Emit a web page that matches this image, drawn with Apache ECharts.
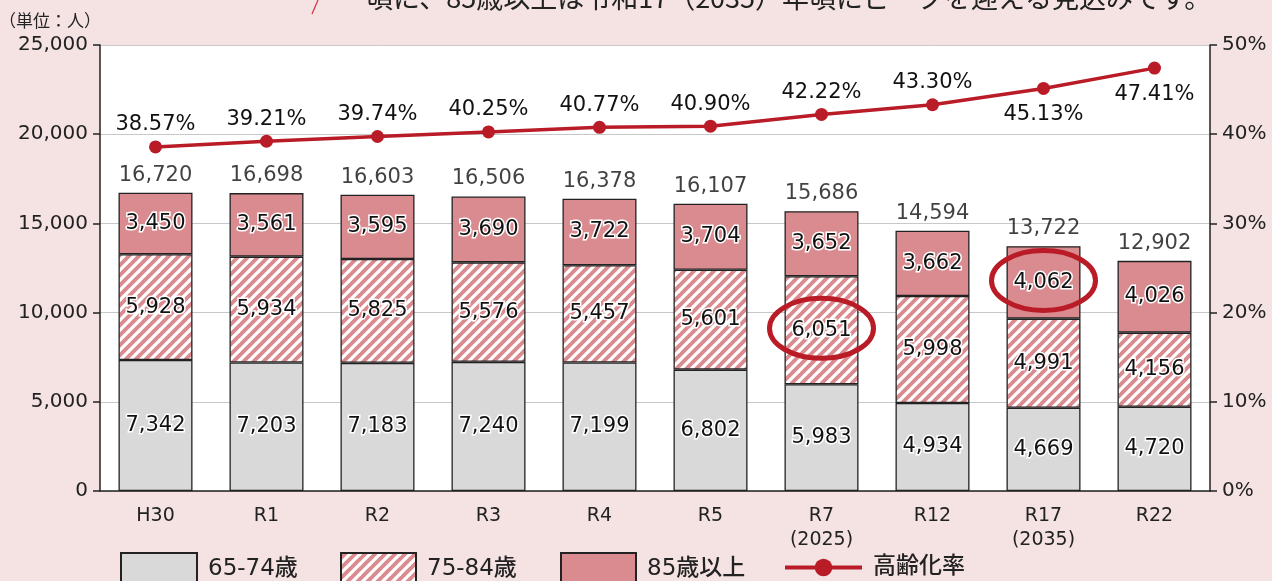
<!DOCTYPE html>
<html>
<head>
<meta charset="utf-8">
<script src="https://cdn.jsdelivr.net/npm/echarts@6/dist/echarts.min.js"></script>
<style>
  html, body { margin: 0; padding: 0; background: #f5e3e4; }
  #chart { width: 1272px; height: 581px; }
</style>
</head>
<body>
<div id="chart"></div>
<script>
const categories = ['H30', 'R1', 'R2', 'R3', 'R4', 'R5', 'R7\n(2025)', 'R12', 'R17\n(2035)', 'R22'];
const age65to74 = [7342, 7203, 7183, 7240, 7199, 6802, 5983, 4934, 4669, 4720];
const age75to84 = [5928, 5934, 5825, 5576, 5457, 5601, 6051, 5998, 4991, 4156];
const age85plus = [3450, 3561, 3595, 3690, 3722, 3704, 3652, 3662, 4062, 4026];
const totals = [16720, 16698, 16603, 16506, 16378, 16107, 15686, 14594, 13722, 12902];
const agingRate = [38.57, 39.21, 39.74, 40.25, 40.77, 40.90, 42.22, 43.30, 45.13, 47.41];
// labels drawn below the point
const rateBelow = [8, 9];

const FONT = '"DejaVu Sans", "Noto Sans CJK JP", sans-serif';
const JP = '"Noto Sans CJK JP", sans-serif';
const PINK = '#da8b8f';
const GRAY = '#d9d9d9';
const RED = '#b91c27';

// diagonal white stripes on pink
function stripePattern() {
  const s = 10;
  const c = document.createElement('canvas');
  c.width = s; c.height = s;
  const ctx = c.getContext('2d');
  ctx.fillStyle = PINK;
  ctx.fillRect(0, 0, s, s);
  ctx.strokeStyle = '#ffffff';
  ctx.lineWidth = 3.2;
  [-s, 0, s].forEach(o => {
    ctx.beginPath();
    ctx.moveTo(o - 1, s + 1);
    ctx.lineTo(o + s + 1, -1);
    ctx.stroke();
  });
  return c;
}

const fmt = v => v.toLocaleString('en-US');

const insideLabel = {
  show: true,
  position: 'inside',
  fontFamily: FONT,
  fontSize: 21,
  color: '#111',
  textBorderColor: '#fff',
  textBorderWidth: 3,
  formatter: p => fmt(p.value)
};

const barStyle = color => ({
  color: color,
  borderColor: '#222',
  borderWidth: 1.3
});

const chart = echarts.init(document.getElementById('chart'));

const legendText = { fontFamily: FONT, fontSize: 23, color: '#222', fontWeight: 500, padding: [0, 0, 0, 6] };
const legendBase = { padding: 0, itemGap: 0, textStyle: legendText, selectedMode: false };

const option = {
  backgroundColor: '#f5e3e4',
  animation: false,
  grid: {
    left: 100, right: 62, top: 45, bottom: 90,
    outerBoundsMode: 'none',
    show: true, backgroundColor: '#ffffff', borderWidth: 0
  },
  legend: [
    { ...legendBase, data: ['65-74歳'], left: 120, top: 552, itemWidth: 76, itemHeight: 32, icon: 'rect' },
    { ...legendBase, data: ['75-84歳'], left: 340, top: 552, itemWidth: 75, itemHeight: 32, icon: 'rect' },
    { ...legendBase, data: ['85歳以上'], left: 560, top: 552, itemWidth: 75, itemHeight: 32, icon: 'rect' },
    { ...legendBase, data: ['高齢化率'], left: 783, top: 556, itemWidth: 77, itemHeight: 22, lineStyle: { width: 4 } }
  ],
  xAxis: {
    type: 'category',
    data: categories,
    axisLine: { lineStyle: { color: '#222', width: 1.5 } },
    axisTick: { show: false },
    axisLabel: { fontFamily: FONT, fontSize: 19, color: '#222', margin: 13, lineHeight: 24 }
  },
  yAxis: [
    {
      type: 'value', min: 0, max: 25000, interval: 5000,
      name: '（単位：人）',
      nameLocation: 'end',
      nameGap: 16,
      nameTextStyle: { fontFamily: JP, fontSize: 17, color: '#222', align: 'right', padding: [0, -1, 0, 0] },
      axisLine: { show: true, lineStyle: { color: '#222', width: 1.5 } },
      axisTick: { show: true, length: 7, lineStyle: { color: '#222', width: 1.5 } },
      axisLabel: { fontFamily: FONT, fontSize: 20, color: '#222', margin: 12, formatter: v => fmt(v) },
      splitLine: { lineStyle: { color: '#c8c8c8', width: 1 } }
    },
    {
      type: 'value', min: 0, max: 50, interval: 10, position: 'right',
      axisLine: { show: true, lineStyle: { color: '#222', width: 1.5 } },
      axisTick: { show: true, length: 7, lineStyle: { color: '#222', width: 1.5 } },
      axisLabel: { fontFamily: FONT, fontSize: 20, color: '#222', margin: 12, formatter: '{value}%' },
      splitLine: { show: false }
    }
  ],
  series: [
    {
      name: '65-74歳', type: 'bar', stack: 'pop', barWidth: 74,
      data: age65to74, itemStyle: barStyle(GRAY), label: insideLabel
    },
    {
      name: '75-84歳', type: 'bar', stack: 'pop',
      data: age75to84, itemStyle: barStyle({ image: stripePattern(), repeat: 'repeat' }), label: insideLabel
    },
    {
      name: '85歳以上', type: 'bar', stack: 'pop',
      data: age85plus, itemStyle: barStyle(PINK), label: insideLabel
    },
    {
      name: '合計', type: 'scatter', symbolSize: 0, data: totals, silent: true,
      label: {
        show: true, position: 'top', distance: 7,
        fontFamily: FONT, fontSize: 21, color: '#111',
        formatter: p => fmt(p.value)
      }
    },
    {
      name: '高齢化率', type: 'line', yAxisIndex: 1,
      data: agingRate.map((v, i) => ({
        value: v,
        label: rateBelow.includes(i) ? { position: 'bottom', distance: 9 } : {}
      })),
      symbol: 'circle', symbolSize: 13,
      lineStyle: { color: RED, width: 3.5 },
      itemStyle: { color: RED },
      z: 5,
      label: {
        show: true, position: 'top', distance: 5,
        fontFamily: FONT, fontSize: 21, color: '#111',
        formatter: p => p.value.toFixed(2) + '%'
      }
    }
  ]
};

chart.setOption(option);

// circled highlights and the clipped caption line at the top
const highlights = [[6, 1], [8, 2]];
const stacks = [age65to74, age75to84, age85plus];
const ellipses = highlights.map(([i, s]) => {
  let base = 0;
  for (let k = 0; k < s; k++) base += stacks[k][i];
  const mid = base + stacks[s][i] / 2;
  const pt = chart.convertToPixel({ xAxisIndex: 0, yAxisIndex: 0 }, [i, mid]);
  return {
    type: 'ellipse', z: 100,
    shape: { cx: pt[0], cy: pt[1] - 2, rx: 52, ry: 30 },
    style: { fill: 'none', stroke: RED, lineWidth: 5 }
  };
});

chart.setOption({
  graphic: [
    ...ellipses,
    {
      type: 'line', z: 100,
      shape: { x1: 312, y1: 14, x2: 318, y2: 0 },
      style: { stroke: '#d0313a', lineWidth: 1.2 }
    },
    {
      type: 'text', z: 100, left: 366, top: -16,
      style: {
        text: '頃に、85歳以上は令和17（2035）年頃にピークを迎える見込みです。',
        fontFamily: JP, fontSize: 27, fill: '#222'
      }
    }
  ]
});
</script>
</body>
</html>
